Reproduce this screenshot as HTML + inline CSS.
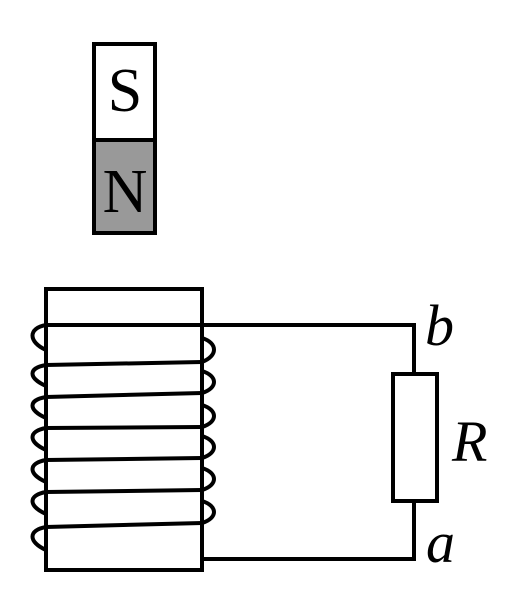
<!DOCTYPE html>
<html><head><style>body{margin:0;background:#fff}svg{display:block}</style></head><body>
<svg width="522" height="615" viewBox="0 0 522 615" xmlns="http://www.w3.org/2000/svg">
<g stroke="#000" stroke-width="4" fill="none">
<rect x="94" y="44" width="61" height="96" fill="#fff"/>
<rect x="94" y="140" width="61" height="93" fill="#999"/>
<rect x="46" y="289" width="156" height="281"/>
<polyline points="46,325 414,325 414,374"/>
<polyline points="202,559 414,559 414,501"/>
<rect x="393" y="374" width="44" height="127" fill="#fff"/>
<line x1="46" y1="365" x2="202" y2="362"/>
<line x1="46" y1="397" x2="202" y2="393"/>
<line x1="46" y1="428" x2="202" y2="427"/>
<line x1="46" y1="460" x2="202" y2="458"/>
<line x1="46" y1="492" x2="202" y2="490"/>
<line x1="46" y1="527" x2="202" y2="523"/>
<path d="M46,325 C28,328 28,342 46,350"/>
<path d="M46,365 C28,368 28,378 46,386"/>
<path d="M46,397 C28,400 28,410 46,418"/>
<path d="M46,428 C28,431 28,442 46,450"/>
<path d="M46,460 C28,463 28,474 46,482"/>
<path d="M46,492 C28,495 28,506 46,514"/>
<path d="M46,527 C28,530 28,542 46,550"/>
<path d="M202,338 C218,343 218,356 202,362"/>
<path d="M202,371 C218,376 218,388 202,393"/>
<path d="M202,405 C218,410 218,422 202,427"/>
<path d="M202,436 C218,441 218,453 202,458"/>
<path d="M202,468 C218,473 218,485 202,490"/>
<path d="M202,501 C218,506 218,518 202,523"/>
</g>
<g font-family="Liberation Serif, serif" font-size="62" text-anchor="middle">
<text x="125" y="111">S</text>
<text x="125" y="212">N</text>
</g>
<g font-family="Liberation Serif, serif" font-style="italic" font-size="58">
<text x="425" y="345">b</text>
<text x="452" y="461">R</text>
<text x="426" y="562">a</text>
</g>
</svg>
</body></html>
